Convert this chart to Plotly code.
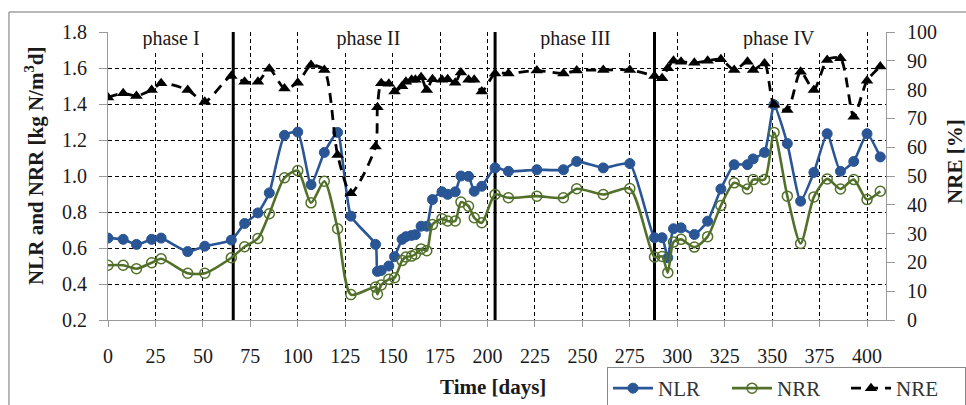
import plotly.graph_objects as go

days = [0, 8, 15, 23, 28, 42, 51, 65, 72, 79, 85, 93, 100, 107, 114, 121, 128,
        141, 142, 144, 148, 151, 155, 157, 160, 162, 165, 168, 171, 176, 179, 183, 186, 190, 193, 197,
        204, 211, 226, 240, 247, 261, 275,
        288, 292, 295, 298, 302, 309, 316, 323, 330, 337, 340, 346, 351, 358, 365, 372, 379, 386, 393, 400, 407]

nlr = [0.655, 0.648, 0.62, 0.648, 0.655, 0.58, 0.61, 0.644, 0.736, 0.795, 0.906, 1.226, 1.244, 0.952, 1.131, 1.242, 0.777,
       0.62, 0.47, 0.475, 0.50, 0.552, 0.648, 0.663, 0.67, 0.674, 0.721, 0.721, 0.869, 0.912, 0.898, 0.912, 1.0, 0.998, 0.915, 0.943,
       1.045, 1.026, 1.035, 1.035, 1.081, 1.045, 1.069,
       0.657, 0.657, 0.546, 0.707, 0.712, 0.675, 0.749, 0.928, 1.063, 1.063, 1.095, 1.131, 1.396, 1.18, 0.86, 1.02, 1.235, 1.026, 1.081, 1.235, 1.106]

nrr = [0.504, 0.504, 0.485, 0.518, 0.54, 0.46, 0.46, 0.546, 0.607, 0.653, 0.79, 0.99, 1.03, 0.851, 0.971, 0.707, 0.341,
       0.383, 0.343, 0.395, 0.426, 0.435, 0.53, 0.55, 0.555, 0.565, 0.595, 0.585, 0.73, 0.762, 0.75, 0.75, 0.855, 0.832, 0.768, 0.74,
       0.897, 0.879, 0.888, 0.879, 0.929, 0.897, 0.93,
       0.55, 0.553, 0.463, 0.633, 0.648, 0.605, 0.663, 0.836, 0.962, 0.928, 0.98, 0.98, 1.242, 0.888, 0.625, 0.884, 0.984, 0.928, 0.98, 0.869, 0.915]

nre = [77.3, 78.7, 77.8, 79.9, 82.2, 79.9, 75.8, 84.7, 82.7, 82.7, 87.2, 80.4, 82.4, 88.5, 86.8, 57.3, 44.0,
       60.2, 73.9, 82.2, 82.0, 79.3, 81.2, 82.7, 83.4, 83.4, 84.3, 79.9, 83.6, 83.4, 83.6, 82.4, 85.9, 83.4, 83.4, 79.3,
       85.6, 85.6, 86.6, 85.6, 86.6, 86.8, 86.8,
       84.7, 83.9, 87.4, 90.0, 89.7, 89.3, 90.0, 90.5, 86.8, 89.7, 86.8, 89.1, 74.7, 72.9, 86.2, 79.9, 90.3, 90.9, 70.6, 83.1, 88.0]

phase_bounds = [66, 204, 288]
phase_labels = ["phase I", "phase II", "phase III", "phase IV"]
phase_label_x = [33.4, 137.4, 246.2, 353.7]
phase_box_w = [92, 103, 107, 108]

x_ticks = list(range(0, 401, 25))
left_ticks = [0.2, 0.4, 0.6, 0.8, 1.0, 1.2, 1.4, 1.6, 1.8]
right_ticks = list(range(0, 101, 10))

FONT = "Liberation Serif"
BLUE = "#2A5696"
GREEN = "#52702A"
AXC = "#9a9a9a"
TXT = "#1a1a1a"

fig = go.Figure()
fig.add_trace(go.Scatter(
    x=days, y=nlr, name="NLR", mode="lines+markers",
    line=dict(color=BLUE, width=2.6, shape="spline", smoothing=0.5),
    marker=dict(symbol="circle", size=10, color=BLUE, line=dict(color=BLUE, width=1)),
))
fig.add_trace(go.Scatter(
    x=days, y=nrr, name="NRR", mode="lines+markers",
    line=dict(color=GREEN, width=2.6, shape="spline", smoothing=0.7),
    marker=dict(symbol="circle-open", size=10, color=GREEN, line=dict(color=GREEN, width=1.5)),
))
fig.add_trace(go.Scatter(
    x=days, y=nre, name="NRE", mode="lines+markers", yaxis="y2",
    line=dict(color="black", width=2.8, dash="10px,7px", shape="spline", smoothing=0.7),
    marker=dict(symbol="triangle-up", size=11, color="black"),
))

for d in phase_bounds:
    fig.add_shape(type="line", xref="x", yref="paper", x0=d, x1=d, y0=0, y1=1,
                  line=dict(color="black", width=3), layer="between")

for lab, xc, w in zip(phase_labels, phase_label_x, phase_box_w):
    fig.add_annotation(x=xc, y=0.977, xref="x", yref="paper", text=lab, showarrow=False,
                       font=dict(family=FONT, size=20, color=TXT), bgcolor="white",
                       width=w, height=21, xanchor="center", yanchor="middle")

# axis titles
fig.add_annotation(x=-0.0938, y=0.535, xref="paper", yref="paper", showarrow=False,
                   xanchor="center", yanchor="middle",
                   text="<b>NLR and NRR [kg N/m<sup>3</sup>d]</b>", textangle=-90,
                   font=dict(family=FONT, size=21, color=TXT))
fig.add_annotation(x=1.0887, y=0.549, xref="paper", yref="paper", showarrow=False,
                   xanchor="center", yanchor="middle",
                   text="<b>NRE [%]</b>", textangle=-90,
                   font=dict(family=FONT, size=21, color=TXT))
fig.add_annotation(x=0.4955, y=-0.2326, xref="paper", yref="paper", showarrow=False,
                   xanchor="center", yanchor="middle",
                   text="<b>Time [days]</b>",
                   font=dict(family=FONT, size=21, color=TXT))

# outer frame
fig.add_shape(type="line", xref="paper", yref="paper", x0=-0.1273, x1=-0.1273, y0=1.0694, y1=-0.32,
              line=dict(color="#a0a0a0", width=1.5))
fig.add_shape(type="line", xref="paper", yref="paper", x0=-0.1273, x1=1.12, y0=1.0694, y1=1.0694,
              line=dict(color="#a0a0a0", width=1.5))

fig.update_layout(
    width=966, height=405,
    margin=dict(l=108, r=80, t=32, b=85, autoexpand=False),
    paper_bgcolor="white", plot_bgcolor="white",
    font=dict(family=FONT, size=20, color=TXT),
    showlegend=True,
    legend=dict(orientation="h", x=0.6414, y=-0.1632, xanchor="left", yanchor="top",
                bordercolor="#888888", borderwidth=1, bgcolor="white",
                font=dict(family=FONT, size=21, color="#333333"),
                tracegroupgap=0, itemwidth=40, entrywidth=64, entrywidthmode="pixels"),
    xaxis=dict(range=[0, 410], tickvals=x_ticks, showgrid=True, gridcolor="black", gridwidth=1,
               griddash="4px,3px", showline=True, linecolor=AXC, linewidth=1,
               ticks="outside", ticklen=6, tickcolor=AXC, ticklabelstandoff=12,
               tickfont=dict(family=FONT, size=20, color=TXT), zeroline=False, automargin=False),
    yaxis=dict(range=[0.2, 1.8], tickvals=left_ticks, tickformat=".1f", showgrid=True,
               gridcolor="black", gridwidth=1, griddash="4px,3px", showline=True, linecolor=AXC,
               linewidth=1, ticks="outside", ticklen=8, tickcolor=AXC, ticklabelstandoff=8,
               tickfont=dict(family=FONT, size=20, color=TXT), zeroline=False, automargin=False),
    yaxis2=dict(range=[0, 100], tickvals=right_ticks, overlaying="y", side="right", showgrid=False,
                showline=True, linecolor=AXC, linewidth=1, ticks="outside", ticklen=8, tickcolor=AXC,
                ticklabelstandoff=8, tickfont=dict(family=FONT, size=20, color=TXT), zeroline=False,
                automargin=False),
)

fig.write_html("out.html")
